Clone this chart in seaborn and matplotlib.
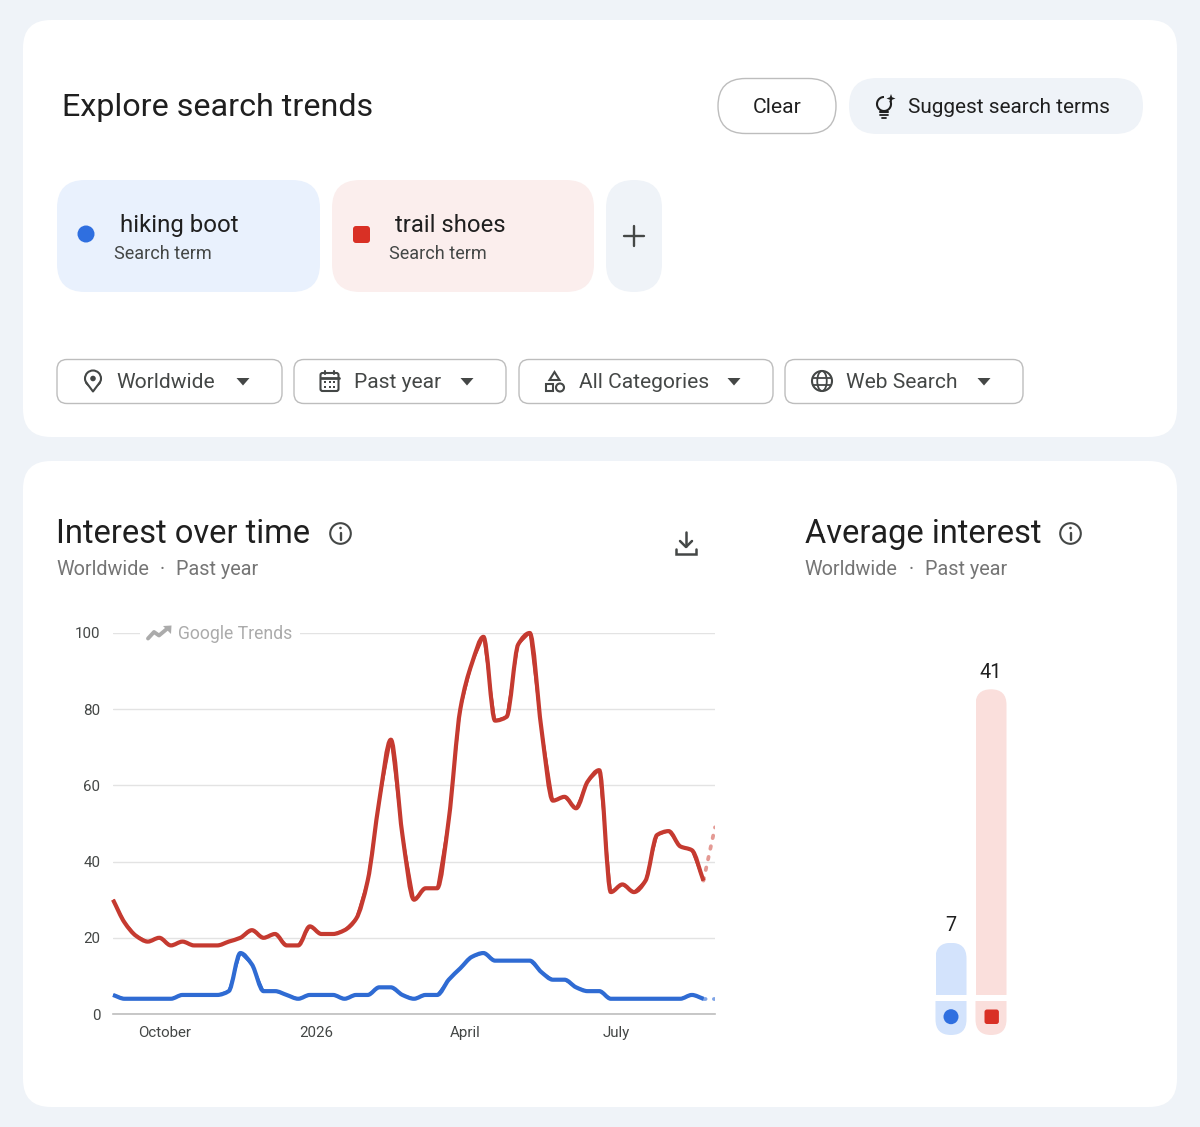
import matplotlib
matplotlib.use("Agg")
import matplotlib.pyplot as plt
import matplotlib.dates as mdates
from matplotlib.patches import FancyBboxPatch, Rectangle, Circle, Polygon, Arc, Ellipse, PathPatch
from matplotlib.path import Path
import numpy as np
import pandas as pd
import seaborn as sns

# ---- data ----
week_start = "2025-08-31"
n_weeks = 53
trail_shoes = [30, 24, 20.5, 19, 20, 18, 19, 18, 18, 18, 19, 20, 22, 20, 21, 18, 18, 23, 21, 21, 22, 25, 35, 56, 72,
               47, 30, 33, 33, 51, 80, 92, 99, 77, 78, 97, 100, 75, 56, 57, 54, 61, 64, 32, 34, 32, 35, 47, 48, 44, 43, 35, 49]
hiking_boot = [5, 4, 4, 4, 4, 4, 5, 5, 5, 5, 6, 16, 13, 6, 6, 5, 4, 5, 5, 5, 4, 5, 5, 7, 7,
               5, 4, 5, 5, 9, 12, 15, 16, 14, 14, 14, 14, 11, 9, 9, 7, 6, 6, 4, 4, 4, 4, 4, 4, 4, 5, 4, 4]
tick_dates = ["2025-10-01", "2026-01-01", "2026-04-01", "2026-07-01"]
tick_names = ["October", "2026", "April", "July"]
y_ticks = [0, 20, 40, 60, 80, 100]
avg_terms = ["hiking boot", "trail shoes"]
avg_values = [7, 41]

BG = "#EFF3F8"; BLUE = "#2F6BD3"; RED = "#C53A30"
DOT_BLUE = "#2F6FE0"; DOT_RED = "#D93025"
LBLUE = "#D3E3FC"; LRED = "#FADFDC"
INK = "#1F1F1F"; GREY = "#444746"; MID = "#757575"

sns.set_theme(style="white")
plt.rcParams["font.family"] = ["Roboto", "DejaVu Sans"]

W, H = 1200, 1127
fig = plt.figure(figsize=(W / 100, H / 100), dpi=100, facecolor=BG)


def px_axes(left, top, right, bottom, **kw):
    return fig.add_axes([left / W, 1 - bottom / H, (right - left) / W, (bottom - top) / H], **kw)


ui = px_axes(0, 0, W, H, zorder=0)
ui.set_xlim(0, W); ui.set_ylim(H, 0); ui.axis("off")
top = px_axes(0, 0, W, H, zorder=5)
top.set_xlim(0, W); top.set_ylim(H, 0); top.axis("off"); top.patch.set_alpha(0)


def rr(a, x0, y0, x1, y1, r, fc="white", ec="none", lw=1.0, add=True):
    p = FancyBboxPatch((x0, y0), x1 - x0, y1 - y0, boxstyle=f"round,pad=0,rounding_size={r}",
                       fc=fc, ec=ec, lw=lw, transform=a.transData)
    if add:
        a.add_patch(p)
    return p


def txt(a, x, y, s, size, color=INK, ha="left", **kw):
    return a.text(x, y - 0.8, s, fontsize=size, color=color, ha=ha, va="center_baseline", **kw)


def smooth_line(a, xy, color, lw):
    """Trace a line's own weekly points with a monotone curve, as the reference does."""
    x, y = xy[:, 0], xy[:, 1]
    h = np.diff(x)
    s = np.diff(y) / h
    m = np.zeros_like(y)
    m[0], m[-1] = s[0], s[-1]
    for k in range(1, len(y) - 1):
        if s[k - 1] * s[k] > 0:
            m[k] = 2 * s[k - 1] * s[k] / (s[k - 1] + s[k])
    verts = [(x[0], y[0])]
    for k in range(len(h)):
        verts += [(x[k] + h[k] / 3, y[k] + m[k] * h[k] / 3),
                  (x[k + 1] - h[k] / 3, y[k + 1] - m[k + 1] * h[k] / 3),
                  (x[k + 1], y[k + 1])]
    codes = [Path.MOVETO] + [Path.CURVE4] * (3 * len(h))
    a.add_patch(PathPatch(Path(verts, codes), fc="none", ec=color, lw=lw, capstyle="butt",
                          joinstyle="round", clip_on=False, zorder=3))


# ---- cards ----
rr(ui, 23, 20, 1177, 437, 28)
rr(ui, 23, 461, 1177, 1107, 28)

# ---- header ----
txt(ui, 62.5, 105.5, "Explore search trends", 23.2, INK)
rr(ui, 718, 78.5, 836, 133.5, 27.5, fc="white", ec="#BDBDBD", lw=1.0)
txt(ui, 777, 106, "Clear", 15.2, INK, ha="center")
rr(ui, 849, 78, 1143, 134, 28, fc=BG)
txt(ui, 908, 106, "Suggest search terms", 14.95, INK)
# bulb icon
ui.add_patch(Arc((884, 104), 14, 14, theta1=30, theta2=330, angle=-60, ec=INK, lw=1.5))
ui.plot([880, 888], [112, 112], color=INK, lw=1.5)
ui.plot([880, 888], [115, 115], color=INK, lw=1.3)
ui.plot([882, 886], [118, 118], color=INK, lw=1.3)
ui.add_patch(Polygon([(891, 94), (892.2, 97.3), (895.5, 98.5), (892.2, 99.7), (891, 103), (889.8, 99.7), (886.5, 98.5), (889.8, 97.3)], fc=INK, ec="none"))

# ---- term chips ----
rr(ui, 57, 180, 320, 292, 28, fc="#E9F1FD")
rr(ui, 332, 180, 594, 292, 28, fc="#FBEEED")
rr(ui, 606, 180, 662, 292, 28, fc=BG)
ui.add_patch(Circle((86, 234), 8.5, fc=DOT_BLUE, ec="none"))
rr(ui, 353, 226, 370, 243, 3, fc=DOT_RED)
txt(ui, 120, 224, "hiking boot", 17.3, INK)
txt(ui, 114, 253, "Search term", 12.95, GREY)
txt(ui, 395, 224, "trail shoes", 17.2, INK)
txt(ui, 389, 253, "Search term", 12.95, GREY)
ui.plot([624, 644], [236, 236], color=GREY, lw=1.7)
ui.plot([634, 634], [226, 246], color=GREY, lw=1.7)

# ---- filter buttons ----
for (x0, x1, label, tx, arrow) in [(57, 282, "Worldwide", 116.4, 243), (294, 506, "Past year", 353.6, 467),
                                   (519, 773, "All Categories", 578.6, 734), (785, 1023, "Web Search", 846, 984)]:
    rr(ui, x0, 359.5, x1, 403.5, 10, fc="white", ec="#BDBDBD", lw=1.0)
    txt(ui, tx, 381.5, label, 15.1, GREY)
    ui.add_patch(Polygon([(arrow - 6.5, 378), (arrow + 6.5, 378), (arrow, 385.5)], fc=GREY, ec="none"))
# pin
ui.add_patch(Circle((93, 378.5), 8, fc="none", ec=GREY, lw=1.5))
ui.add_patch(Polygon([(86, 382.5), (100, 382.5), (93, 391.5)], fc="white", ec="none"))
ui.plot([86.3, 93, 99.7], [382.5, 391.5, 382.5], color=GREY, lw=1.5)
ui.add_patch(Circle((93, 378.5), 2.8, fc=GREY, ec="none"))
# calendar
rr(ui, 320.5, 373, 338.5, 391, 2, fc="white", ec=GREY, lw=1.5)
ui.plot([320.5, 338.5], [377.5, 377.5], color=GREY, lw=2)
ui.plot([325, 325], [370.5, 374], color=GREY, lw=1.5)
ui.plot([334, 334], [370.5, 374], color=GREY, lw=1.5)
for cx in [325, 329.5, 334]:
    for cy in [382, 386.5]:
        ui.add_patch(Rectangle((cx - 1, cy - 1), 2, 2, fc=GREY, ec="none"))
# shapes
ui.add_patch(Polygon([(554.5, 372), (559.5, 380), (549.5, 380)], fc="white", ec=GREY, lw=1.5))
ui.add_patch(Rectangle((545.5, 383.5), 7.5, 7.5, fc="white", ec=GREY, lw=1.5))
ui.add_patch(Circle((560, 387.5), 4, fc="white", ec=GREY, lw=1.5))
# globe
ui.add_patch(Circle((822, 381), 10, fc="none", ec=GREY, lw=1.5))
ui.add_patch(Ellipse((822, 381), 9.5, 20, fc="none", ec=GREY, lw=1.3))
ui.plot([813, 831], [377.5, 377.5], color=GREY, lw=1.3)
ui.plot([813, 831], [384.5, 384.5], color=GREY, lw=1.3)

# ---- panel headers ----
for x0, title in ((56.5, "Interest over time"), (804.8, "Average interest")):
    txt(ui, x0, 531.5, title, 23.5, INK)
    txt(ui, x0, 568, "Worldwide", 14.3, MID)
    txt(ui, x0 + 106, 568, "·", 14.3, MID, ha="center")
    txt(ui, x0 + 120, 568, "Past year", 14.3, MID)
for cx in (340.5, 1070.5):
    ui.add_patch(Circle((cx, 533.5), 10.3, fc="none", ec=GREY, lw=1.5))
    ui.plot([cx, cx], [532.5, 539.5], color=GREY, lw=1.7)
    ui.add_patch(Circle((cx, 528), 1.3, fc=GREY, ec="none"))
# download
ui.plot([686, 686], [532, 546], color=GREY, lw=1.8)
ui.plot([680, 686, 692], [541, 547, 541], color=GREY, lw=1.8)
ui.plot([676, 676, 696, 696], [549, 553.5, 553.5, 549], color=GREY, lw=1.8, solid_joinstyle="miter")

# ---- line chart ----
ax = px_axes(113, 633, 715, 1014, zorder=2)
ax.patch.set_alpha(0)
dates = pd.date_range(week_start, periods=n_weeks, freq="7D")
trends = pd.concat([
    pd.DataFrame({"date": dates, "term": "trail shoes", "interest": trail_shoes}),
    pd.DataFrame({"date": dates, "term": "hiking boot", "interest": hiking_boot}),
])
hue_order = ["trail shoes", "hiking boot"]
palette = {"hiking boot": BLUE, "trail shoes": RED}
solid = trends[trends["date"] <= dates[-2]]
partial = trends[trends["date"] >= dates[-2]]
sns.lineplot(data=solid, x="date", y="interest", hue="term", palette=palette, hue_order=hue_order,
             estimator=None, legend=False, ax=ax, lw=1.6, solid_joinstyle="round", solid_capstyle="butt")
solid_lines = list(ax.get_lines())
sns.lineplot(data=partial, x="date", y="interest", hue="term", palette={"hiking boot": "#7FA4E6", "trail shoes": "#E49A94"},
             hue_order=hue_order, estimator=None, legend=False, ax=ax, lw=2.7, linestyle=(0, (0.7, 2.2)), dash_capstyle="round")
for line in solid_lines:
    line.set_zorder(2.5)
    smooth_line(ax, line.get_xydata(), line.get_color(), 3.0)
ax.set_xlim(dates[0], dates[-1]); ax.set_ylim(0, 100)
ax.set_xlabel(""); ax.set_ylabel("")
ax.set_yticks(y_ticks); ax.set_yticklabels([str(v) for v in y_ticks])
ax.set_xticks(mdates.date2num(pd.to_datetime(tick_dates))); ax.set_xticklabels(tick_names)
ax.grid(axis="y", color="#E3E3E3", lw=1.0); ax.grid(axis="x", visible=False)
ax.set_axisbelow(True)
for side in ("top", "left", "right"):
    ax.spines[side].set_visible(False)
ax.spines["bottom"].set_color("#BDBDBD"); ax.spines["bottom"].set_linewidth(1.2)
ax.tick_params(axis="y", length=0, pad=9, labelsize=10.9, labelcolor=GREY)
ax.tick_params(axis="x", length=4.2, width=0.8, color="#BDBDBD", pad=4.3, labelsize=10.9, labelcolor=GREY)

# Google Trends watermark over the top gridline
top.add_patch(Rectangle((140, 628), 160, 10, fc="white", ec="none"))
top.plot([148, 154, 159, 168], [638.5, 632, 635.5, 628], color="#ABABAB", lw=2.8, solid_joinstyle="round")
top.add_patch(Polygon([(163, 626), (171.5, 625.5), (171, 634)], fc="#ABABAB", ec="none"))
txt(top, 178, 632.5, "Google Trends", 12.7, "#ABABAB")

# ---- average interest bars ----
bx = px_axes(931, 689.3, 1011, 995, zorder=2)
bx.patch.set_alpha(0)
avg = pd.DataFrame({"term": avg_terms, "value": avg_values})
sns.barplot(data=avg, x="term", y="value", hue="term", palette=[LBLUE, LRED], legend=False, ax=bx,
            width=0.775, saturation=1, linewidth=0)
bx.set_ylim(0, 41); bx.set_xlim(-0.5, 1.5)
bx.axis("off")
for c in bx.containers:
    bx.bar_label(c, padding=5.5, fontsize=14.3, color=INK, clip_on=False)
# round the top of each bar
for c, cx in zip(bx.containers, (951, 991)):
    for b in c:
        tp = 995 - b.get_height() * 305.7 / 41
        clip = rr(ui, cx - 15.5, tp, cx + 15.5, 1010, 15.5, add=False)
        b.set_clip_path(clip)
# key stubs under the bars
for cx, col in ((951, LBLUE), (991, LRED)):
    stub = rr(ui, cx - 15.5, 985, cx + 15.5, 1035, 15.5, fc=col)
    stub.set_clip_path(Rectangle((cx - 16, 1001), 32, 35, transform=ui.transData))
ui.add_patch(Circle((951, 1016.7), 7.5, fc=DOT_BLUE, ec="none"))
rr(ui, 984.5, 1009.5, 998.9, 1024, 2.5, fc=DOT_RED)

fig.savefig("out.png", dpi=100, facecolor=BG)
